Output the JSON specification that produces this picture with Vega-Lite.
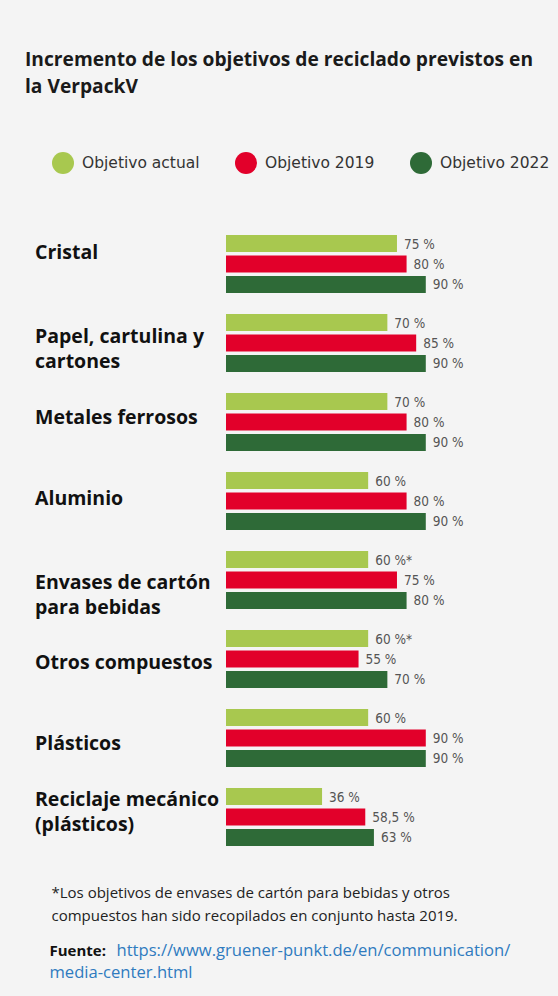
{
  "$schema": "https://vega.github.io/schema/vega-lite/v6.json",
  "autosize": {"type": "none"},
  "padding": {"left": 226, "top": 235, "right": 113, "bottom": 150},
  "width": 219,
  "height": 611,
  "background": "#f4f4f4",
  "config": {"view": {"stroke": null}, "font": "Open Sans"},
  "title": {
    "text": ["Incremento de los objetivos de reciclado previstos en", "la VerpackV"],
    "anchor": "start",
    "frame": "group",
    "dx": -201,
    "offset": 55,
    "font": "Open Sans",
    "fontSize": 19.2,
    "fontWeight": "bold",
    "color": "#1a1a1a",
    "lineHeight": 26.5
  },
  "data": {
    "values": [
      {"categoria": "Cristal", "serie": "Objetivo actual", "valor": 75, "etiqueta": "75 %"},
      {"categoria": "Cristal", "serie": "Objetivo 2019", "valor": 80, "etiqueta": "80 %"},
      {"categoria": "Cristal", "serie": "Objetivo 2022", "valor": 90, "etiqueta": "90 %"},
      {"categoria": "Papel, cartulina y|cartones", "serie": "Objetivo actual", "valor": 70, "etiqueta": "70 %"},
      {"categoria": "Papel, cartulina y|cartones", "serie": "Objetivo 2019", "valor": 85, "etiqueta": "85 %"},
      {"categoria": "Papel, cartulina y|cartones", "serie": "Objetivo 2022", "valor": 90, "etiqueta": "90 %"},
      {"categoria": "Metales ferrosos", "serie": "Objetivo actual", "valor": 70, "etiqueta": "70 %"},
      {"categoria": "Metales ferrosos", "serie": "Objetivo 2019", "valor": 80, "etiqueta": "80 %"},
      {"categoria": "Metales ferrosos", "serie": "Objetivo 2022", "valor": 90, "etiqueta": "90 %"},
      {"categoria": "Aluminio", "serie": "Objetivo actual", "valor": 60, "etiqueta": "60 %"},
      {"categoria": "Aluminio", "serie": "Objetivo 2019", "valor": 80, "etiqueta": "80 %"},
      {"categoria": "Aluminio", "serie": "Objetivo 2022", "valor": 90, "etiqueta": "90 %"},
      {"categoria": "Envases de cartón|para bebidas", "serie": "Objetivo actual", "valor": 60, "etiqueta": "60 %*"},
      {"categoria": "Envases de cartón|para bebidas", "serie": "Objetivo 2019", "valor": 75, "etiqueta": "75 %"},
      {"categoria": "Envases de cartón|para bebidas", "serie": "Objetivo 2022", "valor": 80, "etiqueta": "80 %"},
      {"categoria": "Otros compuestos", "serie": "Objetivo actual", "valor": 60, "etiqueta": "60 %*"},
      {"categoria": "Otros compuestos", "serie": "Objetivo 2019", "valor": 55, "etiqueta": "55 %"},
      {"categoria": "Otros compuestos", "serie": "Objetivo 2022", "valor": 70, "etiqueta": "70 %"},
      {"categoria": "Plásticos", "serie": "Objetivo actual", "valor": 60, "etiqueta": "60 %"},
      {"categoria": "Plásticos", "serie": "Objetivo 2019", "valor": 90, "etiqueta": "90 %"},
      {"categoria": "Plásticos", "serie": "Objetivo 2022", "valor": 90, "etiqueta": "90 %"},
      {"categoria": "Reciclaje mecánico|(plásticos)", "serie": "Objetivo actual", "valor": 36, "etiqueta": "36 %"},
      {"categoria": "Reciclaje mecánico|(plásticos)", "serie": "Objetivo 2019", "valor": 58.5, "etiqueta": "58,5 %"},
      {"categoria": "Reciclaje mecánico|(plásticos)", "serie": "Objetivo 2022", "valor": 63, "etiqueta": "63 %"}
    ]
  },
  "encoding": {
    "y": {
      "field": "categoria",
      "type": "nominal",
      "sort": null,
      "scale": {"paddingInner": 0.266, "paddingOuter": 0}
    },
    "yOffset": {
      "field": "serie",
      "type": "nominal",
      "sort": ["Objetivo actual", "Objetivo 2019", "Objetivo 2022"],
      "scale": {"paddingInner": 0.17, "paddingOuter": 0}
    }
  },
  "layer": [
    {
      "mark": {"type": "bar"},
      "encoding": {
        "x": {
          "field": "valor",
          "type": "quantitative",
          "scale": {"domain": [-14, 100], "zero": false, "nice": false},
          "axis": {
            "orient": "bottom",
            "labels": false, "ticks": false, "domain": false, "grid": false,
            "title": ["*Los objetivos de envases de cartón para bebidas y otros", "compuestos han sido recopilados en conjunto hasta 2019."],
            "titleX": -175, "titleY": 51,
            "titleAlign": "left", "titleBaseline": "alphabetic", "titleAnchor": "start",
            "titleFont": "Open Sans", "titleFontSize": 15, "titleFontWeight": "normal",
            "titleColor": "#222222", "titleLineHeight": 23.3
          }
        },
        "x2": {"datum": -14},
        "y": {
          "field": "categoria",
          "type": "nominal",
          "sort": null,
          "axis": {
            "orient": "left",
            "ticks": false, "tickSize": 0, "domain": false, "grid": false,
            "labelAlign": "left", "labelBaseline": "middle", "labelPadding": 191.5,
            "labelFont": "Open Sans", "labelFontSize": 19.5, "labelFontWeight": "bold",
            "labelColor": "#111111", "labelLimit": 300, "labelLineHeight": 25,
            "labelBound": false, "labelOverlap": false,
            "labelExpr": "split(datum.label, '|')",
            "labelOffset": {
              "condition": [
                {"test": "datum.value === 'Cristal'", "value": -11},
                {"test": "datum.value === 'Papel, cartulina y|cartones'", "value": -6},
                {"test": "datum.value === 'Metales ferrosos'", "value": -4},
                {"test": "datum.value === 'Aluminio'", "value": -2},
                {"test": "datum.value === 'Envases de cartón|para bebidas'", "value": 3},
                {"test": "datum.value === 'Otros compuestos'", "value": 4},
                {"test": "datum.value === 'Plásticos'", "value": 6},
                {"test": "datum.value === 'Reciclaje mecánico|(plásticos)'", "value": -17}
              ],
              "value": 0
            },
            "title": "Fuente:",
            "titleAngle": 0, "titleX": -177, "titleY": 720,
            "titleAlign": "left", "titleBaseline": "alphabetic",
            "titleFont": "Open Sans", "titleFontSize": 15, "titleFontWeight": "bold",
            "titleColor": "#111111"
          }
        },
        "color": {
          "field": "serie",
          "type": "nominal",
          "sort": ["Objetivo actual", "Objetivo 2019", "Objetivo 2022"],
          "scale": {
            "domain": ["Objetivo actual", "Objetivo 2019", "Objetivo 2022"],
            "range": ["#a8c84f", "#e2002a", "#2e6a37"]
          },
          "legend": {
            "orient": "none",
            "legendX": -174,
            "legendY": -83,
            "direction": "horizontal",
            "title": null,
            "padding": 0,
            "symbolType": "circle",
            "symbolSize": 484,
            "symbolStrokeWidth": 0,
            "symbolOpacity": 1,
            "labelFont": "DejaVu Sans",
            "labelFontSize": 15.5,
            "labelColor": "#333333",
            "labelOffset": 8,
            "columnPadding": 35,
            "labelLimit": 200
          }
        }
      }
    },
    {
      "mark": {
        "type": "text",
        "align": "left",
        "baseline": "middle",
        "dx": 7,
        "dy": 1,
        "font": "DejaVu Sans Condensed",
        "fontSize": 13.5,
        "color": "#555555"
      },
      "encoding": {
        "x": {
          "field": "valor",
          "type": "quantitative",
          "axis": {
            "orient": "bottom",
            "labels": false, "ticks": false, "domain": false, "grid": false,
            "title": "https://www.gruener-punkt.de/en/communication/",
            "titleX": -110, "titleY": 109,
            "titleAlign": "left", "titleBaseline": "alphabetic", "titleAnchor": "start",
            "titleFont": "Open Sans", "titleFontSize": 16.6, "titleFontWeight": "normal",
            "titleColor": "#2f7bbf"
          }
        },
        "y": {
          "field": "categoria",
          "type": "nominal",
          "sort": null,
          "axis": {
            "orient": "right",
            "labels": false, "ticks": false, "domain": false, "grid": false,
            "title": "media-center.html",
            "titleAngle": 0, "titleX": -396, "titleY": 742,
            "titleAlign": "left", "titleBaseline": "alphabetic",
            "titleFont": "Open Sans", "titleFontSize": 16.6, "titleFontWeight": "normal",
            "titleColor": "#2f7bbf"
          }
        },
        "text": {"field": "etiqueta", "type": "nominal"}
      }
    }
  ],
  "resolve": {"axis": {"x": "independent", "y": "independent"}}
}
